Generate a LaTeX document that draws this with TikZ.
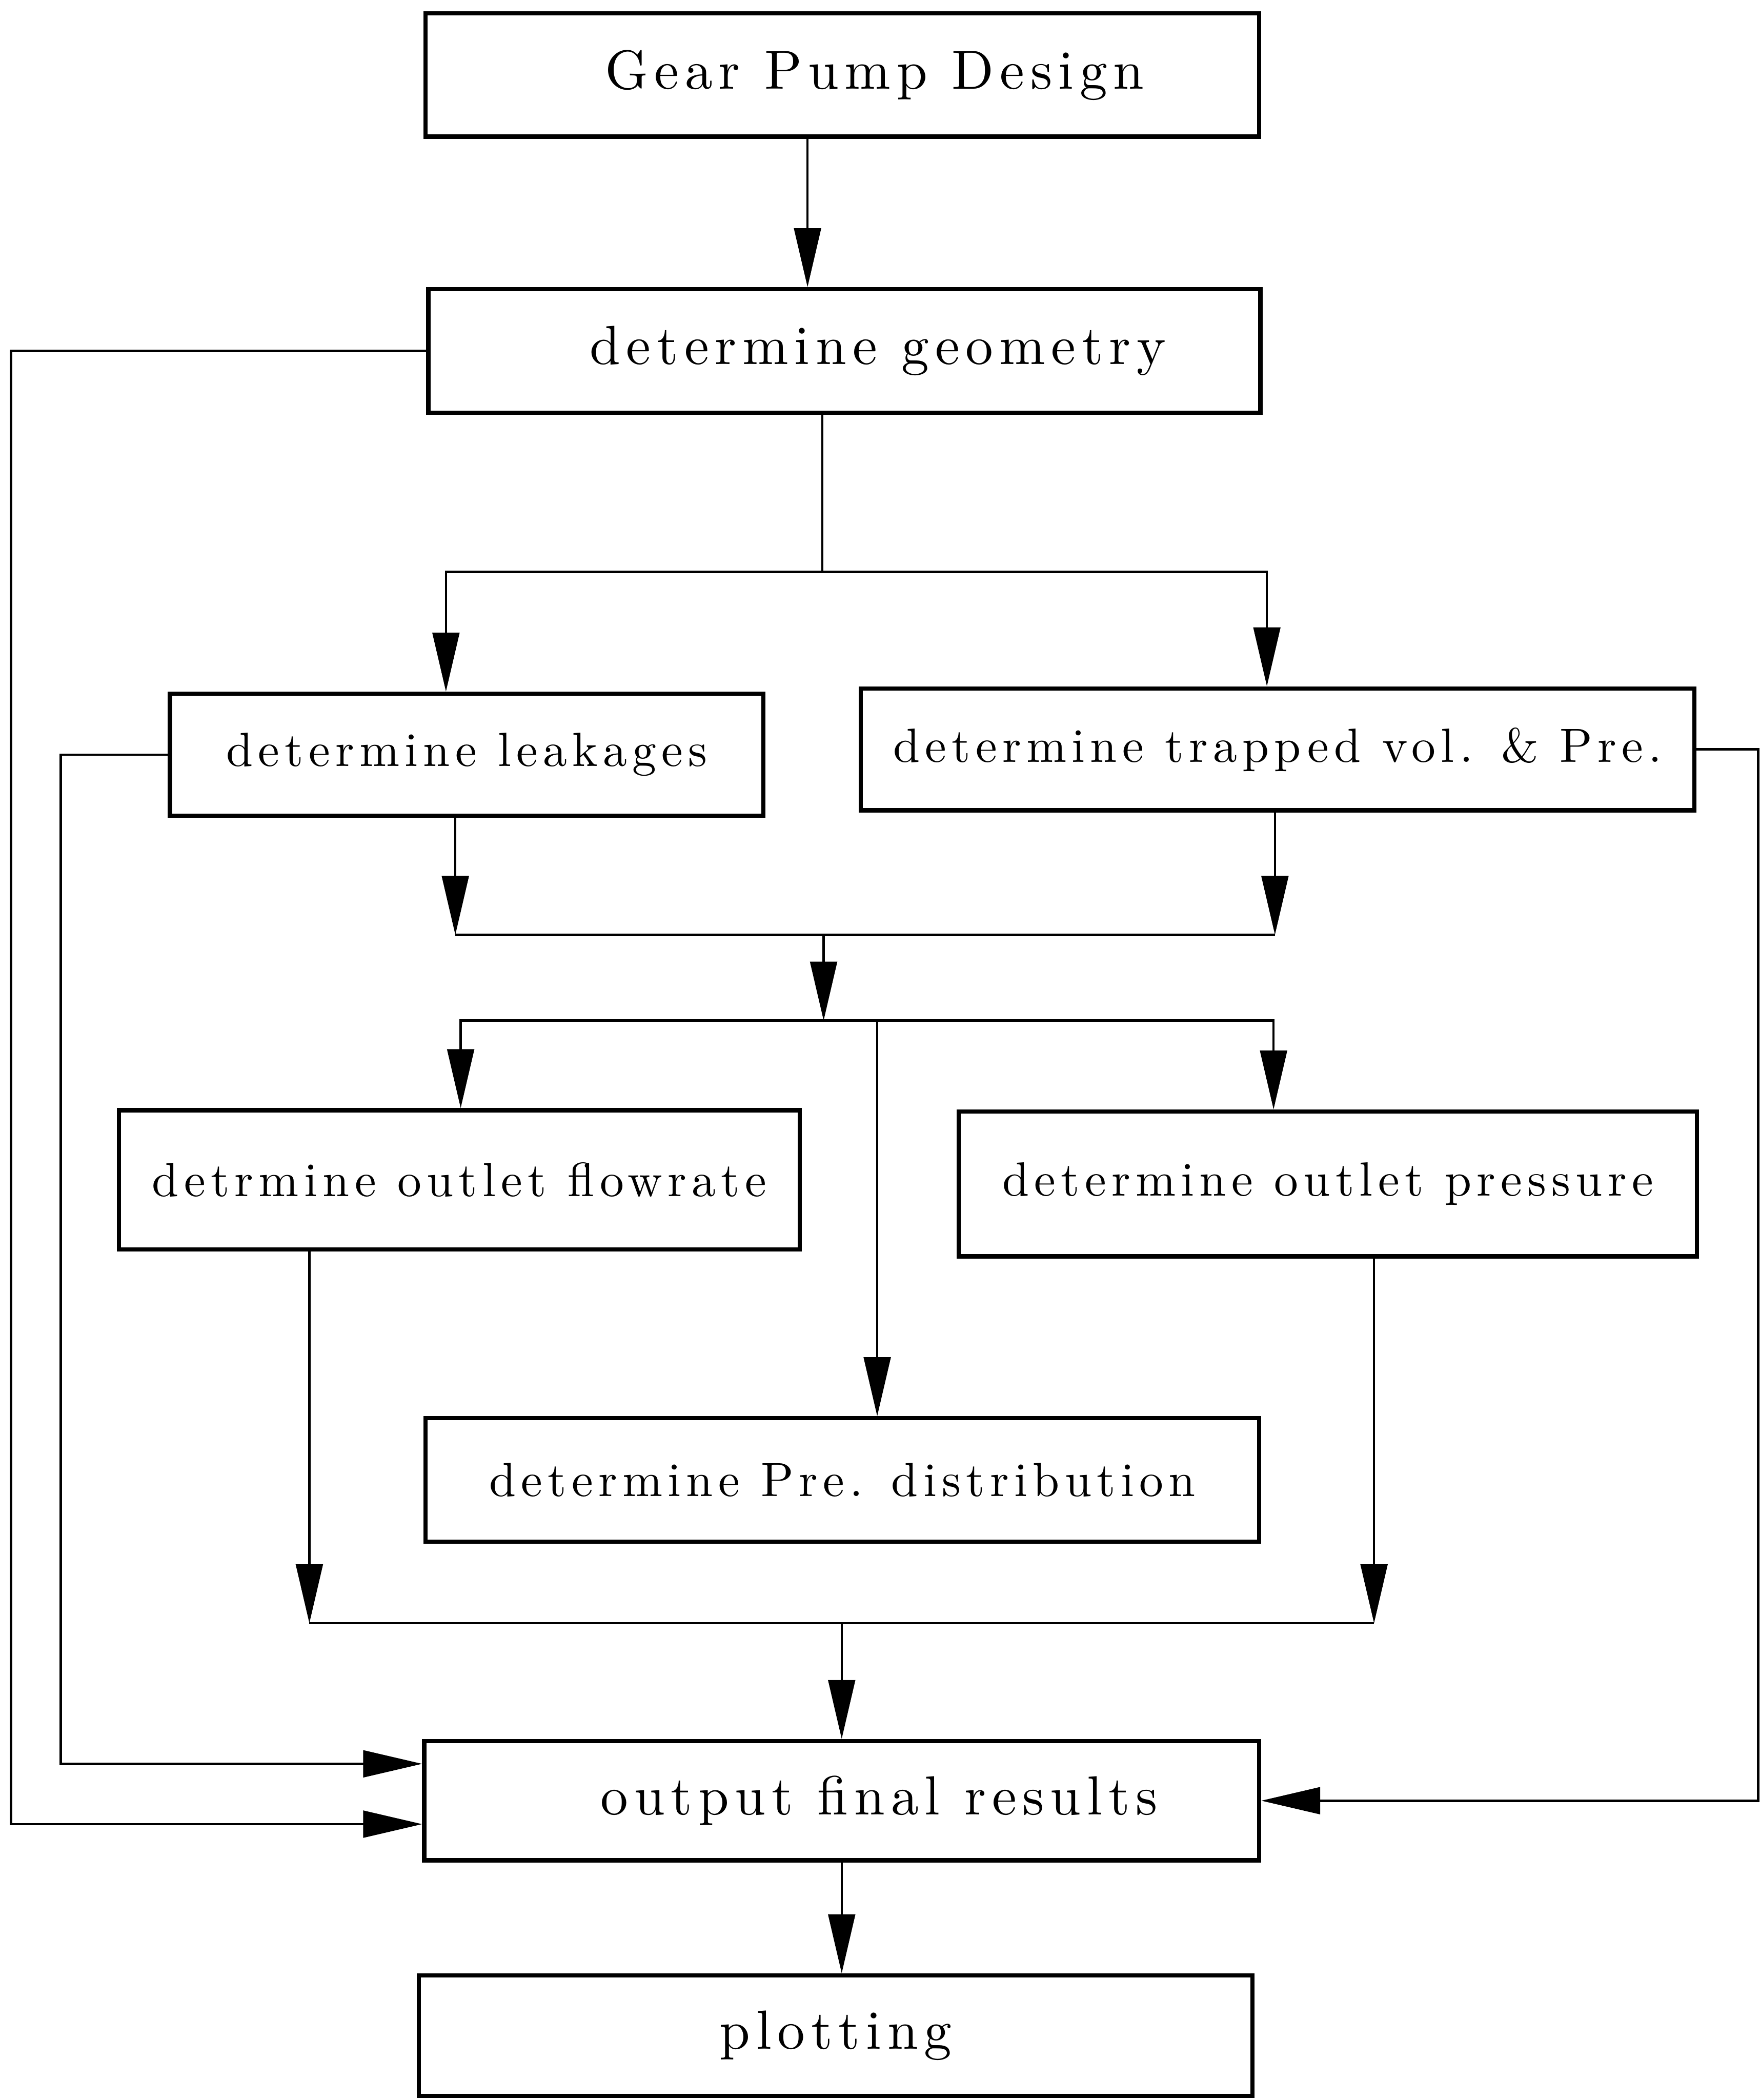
\documentclass[tikz,border=0pt]{standalone}
\usepackage{fontspec}
\usepackage{tikz}
\usetikzlibrary{arrows.meta}

\newfontfamily\widefont{lmroman10-regular.otf}[LetterSpace=11]

\begin{document}
\begin{tikzpicture}[x=0.01cm, y=-0.01cm,
		box/.style={draw, line width=0.9pt, inner sep=0pt},
		bigtxt/.style={font=\widefont\fontsize{11.7}{14}\selectfont},
		smalltxt/.style={font=\widefont\fontsize{10.2}{12}\selectfont},
		flow/.style={line width=0.5pt, -{Triangle[length=4.4mm, width=2mm]}}]
		\useasboundingbox (0,0) rectangle (1314,1568);

		% Draw the main column of boxes
		\node (gear) at (629,56) [box, bigtxt, minimum width=6.22cm, minimum height=0.92cm] {\hspace*{0.48cm}Gear Pump Design};
		\node (geom) at (630.5,262) [box, bigtxt, minimum width=6.21cm, minimum height=0.92cm] {\hspace*{0.5cm}determine geometry};
		\node (leak) at (348.5,563.5) [box, smalltxt, minimum width=4.43cm, minimum height=0.91cm] {determine leakages};
		\node (trap) at (954,559.5) [box, smalltxt, minimum width=6.22cm, minimum height=0.91cm] {determine trapped vol. \& Pre.};
		\node (rate) at (343,881) [box, smalltxt, minimum width=5.08cm, minimum height=1.04cm] {detrmine outlet flowrate};
		\node (pres) at (991.5,884) [box, smalltxt, minimum width=5.51cm, minimum height=1.08cm] {determine outlet pressure};
		\node (dist) at (629,1105) [box, smalltxt, minimum width=6.22cm, minimum height=0.92cm] {determine Pre. distribution};
		\node (outp) at (628.5,1344.5) [box, bigtxt, minimum width=6.23cm, minimum height=0.89cm] {\hspace*{0.56cm}output final results};
		\node (plot) at (624,1520) [box, bigtxt, minimum width=6.22cm, minimum height=0.90cm] {plotting};

		% Junction points of the branching lines
		\coordinate (j1) at (614,427);
		\coordinate (m1) at (340,698);
		\coordinate (m2) at (952,698);
		\coordinate (m3) at (615,698);
		\coordinate (j3) at (615,762);
		\coordinate (b1) at (231,1212);
		\coordinate (b2) at (1026,1212);

		\draw[flow] ([xshift=-0.26cm]gear.south) -- ([xshift=-0.26cm]gear.south |- geom.north);

		% Split after the geometry
		\draw[line width=0.5pt] (j1 |- geom.south) -- (j1);
		\draw[flow] (j1) -| ([xshift=-0.155cm]leak.north);
		\draw[flow] (j1) -| ([xshift=-0.08cm]trap.north);

		% Merge and split again
		\draw[flow] (m1 |- leak.south) -- (m1);
		\draw[flow] (m2 |- trap.south) -- (m2);
		\draw[line width=0.5pt] (m1) -- (m2);
		\draw[flow] (m3) -- (j3);
		\draw[flow] (j3) -| ([xshift=0.01cm]rate.north);
		\draw[flow] (j3) -| ([xshift=-0.405cm]pres.north);
		\draw[flow] ([xshift=0.26cm]dist.north |- j3) -- ([xshift=0.26cm]dist.north);

		% Merge into the output
		\draw[flow] (b1 |- rate.south) -- (b1);
		\draw[flow] (b2 |- pres.south) -- (b2);
		\draw[line width=0.5pt] (b1) -- (b2);
		\draw[flow] (outp.north |- b1) -- (outp.north);
		\draw[flow] (outp.south) -- (outp.south |- plot.north);

		% Side lines straight to the output
		\draw[flow] (geom.west) -- ++(-310,0) |- ([yshift=-0.175cm]outp.west);
		\draw[flow] (leak.west) -- ++(-80,0) |- ([yshift=0.275cm]outp.west);
		\draw[flow] (trap.east) -- ++(46,0) |- (outp.east);
	\end{tikzpicture}
\end{document}
